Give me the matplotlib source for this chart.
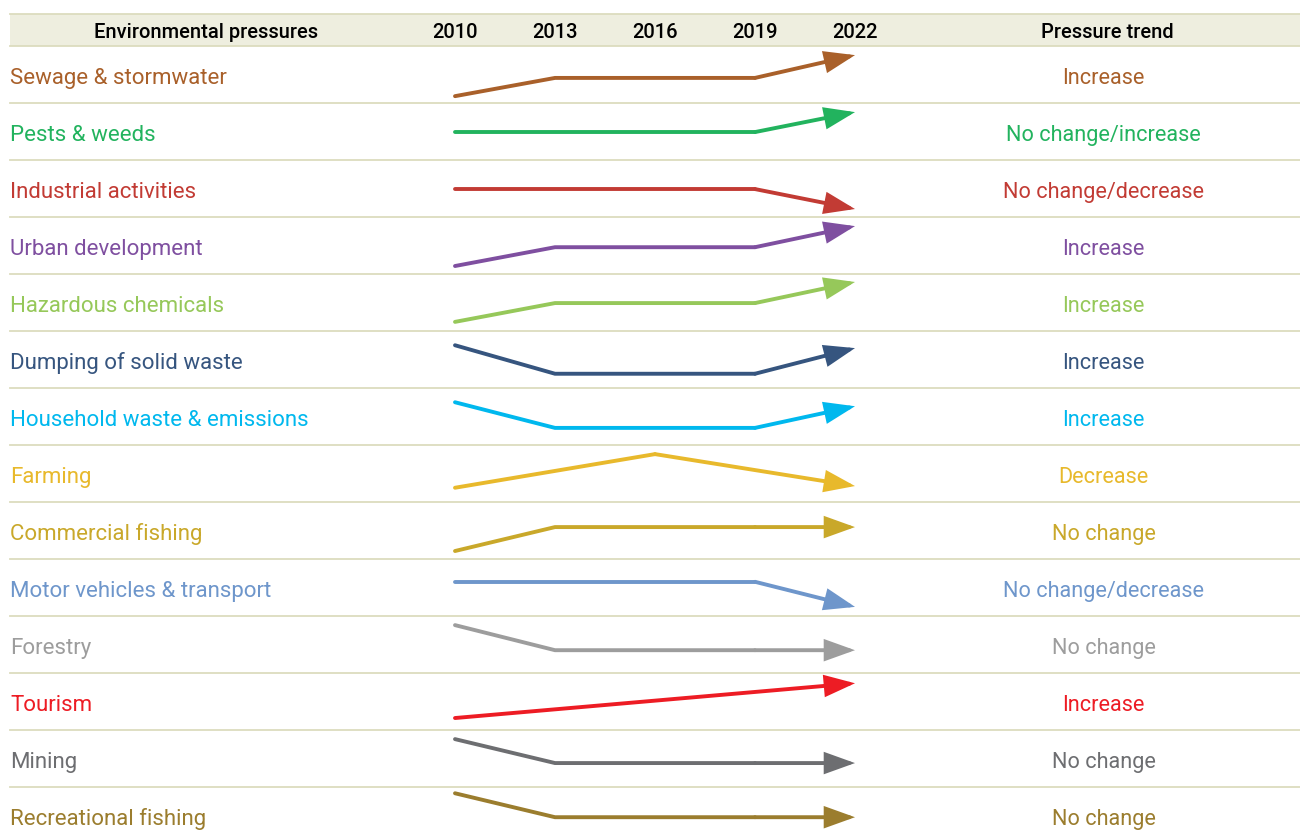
import matplotlib
matplotlib.use('Agg')
import matplotlib.pyplot as plt
import matplotlib.transforms as mtransforms

###############################################################################
# data
YEARS = [2010, 2013, 2016, 2019, 2022]

PRESSURES = ['Sewage & stormwater', 'Pests & weeds', 'Industrial activities',
             'Urban development', 'Hazardous chemicals', 'Dumping of solid waste',
             'Household waste & emissions', 'Farming', 'Commercial fishing',
             'Motor vehicles & transport', 'Forestry', 'Tourism', 'Mining',
             'Recreational fishing']

TRENDS = ['Increase', 'No change/increase', 'No change/decrease', 'Increase',
          'Increase', 'Increase', 'Increase', 'Decrease', 'No change',
          'No change/decrease', 'No change', 'Increase', 'No change', 'No change']

COLORS = ['#A9602A', '#22B35E', '#C23B34', '#7F4FA0', '#96C85A', '#36557F',
          '#00B8EE', '#E8B92C', '#C9A82A', '#6E96CB', '#9D9D9D', '#ED1C24',
          '#6D6E71', '#9B7D2E']

# relative pressure level inside each row (0 = bottom, 1 = top)
# None = no bend at that year, the line just passes through
sewage = [0.12, 0.44, 0.44, 0.44, 0.84]
pests = [0.49, 0.49, 0.49, 0.49, 0.84]
industrial = [0.49, 0.49, 0.49, 0.49, 0.14]
urban = [0.14, 0.47, 0.47, 0.47, 0.84]
hazardous = [0.16, 0.49, 0.49, 0.49, 0.86]
dumping = [0.75, 0.25, 0.25, 0.25, 0.70]
household = [0.75, 0.30, 0.30, 0.30, 0.68]
farming = [0.25, None, 0.84, None, 0.28]
commercial = [0.14, 0.56, 0.56, 0.56, 0.56]
motor = [0.60, 0.60, 0.60, 0.60, 0.16]
forestry = [0.84, 0.40, 0.40, 0.40, 0.40]
tourism = [0.21, None, None, None, 0.82]
mining = [0.84, 0.42, 0.42, 0.42, 0.42]
recreational = [0.89, 0.47, 0.47, 0.47, 0.47]

LEVELS = [sewage, pests, industrial, urban, hazardous, dumping, household,
          farming, commercial, motor, forestry, tourism, mining, recreational]

###############################################################################
# layout
FONT = ['Roboto', 'DejaVu Sans']
LINE_COLOR = '#DCDCBE'
HEADER_BG = '#EEEEDF'
LEFT = 10 / 1300
HEADER_H = 0.561
ROW_BASE = 0.667      # text baseline inside a row
HEAD_BASE = -0.132    # text baseline inside the header


def draw_table(ax, blend):
    # header band
    ax.axhspan(-HEADER_H, 0, xmin=LEFT, xmax=1, color=HEADER_BG, lw=0, zorder=0)
    ax.axhline(-HEADER_H, xmin=LEFT, xmax=1, color=LINE_COLOR, lw=1.3, zorder=1)
    for i in range(len(PRESSURES)):
        ax.axhline(i, xmin=LEFT, xmax=1, color=LINE_COLOR, lw=1.3, zorder=1)

    hkw = dict(ha='center', va='baseline', fontsize=14.5, family=FONT,
               fontweight='medium', color='black')
    ax.text(0.1585, HEAD_BASE, 'Environmental pressures', transform=blend, **hkw)
    ax.text(0.8515, HEAD_BASE, 'Pressure trend', transform=blend, **hkw)
    for yr in YEARS:
        ax.text(yr, HEAD_BASE, str(yr), **hkw)


def draw_rows(ax, blend):
    for i, (name, trend, c, lv) in enumerate(zip(PRESSURES, TRENDS, COLORS, LEVELS)):
        yb = i + ROW_BASE
        ax.text(LEFT, yb, name, transform=blend, ha='left', va='baseline',
                fontsize=16, family=FONT, color=c)
        ax.text(0.849, yb, trend, transform=blend, ha='center', va='baseline',
                fontsize=15.6, family=FONT, color=c)

        pts = [(x, i + 1 - v) for x, v in zip(YEARS, lv) if v is not None]
        xs = [p[0] for p in pts[:-1]]
        ys = [p[1] for p in pts[:-1]]
        ax.plot(xs, ys, color=c, lw=2.8, solid_capstyle='round',
                solid_joinstyle='miter', zorder=3)
        # last segment ends in an arrow head
        ax.annotate('', xy=pts[-1], xytext=pts[-2],
                    arrowprops=dict(arrowstyle='-|>,head_length=1.0,head_width=0.36',
                                    mutation_scale=17, lw=2.8, color=c,
                                    shrinkA=0, shrinkB=0, joinstyle='miter'),
                    zorder=3)


if __name__ == '__main__':
    fig = plt.figure(figsize=(13, 8.35), dpi=100)
    ax = fig.add_axes([0, 0, 1, 1])
    # 100 px per 3 years, 2010 sits at x = 455 px
    ax.set_xlim(2010 - 455 * 0.03, 2010 + 845 * 0.03)
    ax.set_ylim((835 - 46) / 57, -46 / 57)
    ax.axis('off')
    blend = mtransforms.blended_transform_factory(ax.transAxes, ax.transData)

    draw_table(ax, blend)
    draw_rows(ax, blend)
    fig.savefig('out.png', dpi=100, facecolor='white')
